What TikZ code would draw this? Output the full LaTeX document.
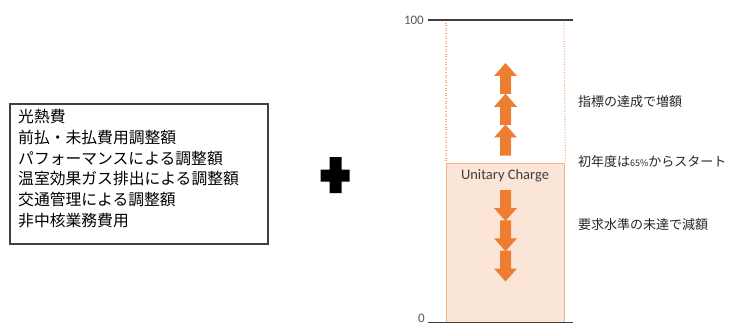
\documentclass[tikz,border=0pt]{standalone}
\usepackage{fontspec}
\newfontfamily\jpfont{Noto Sans CJK JP}
\newfontfamily\latfont{Carlito}
\definecolor{axisgray}{HTML}{3F3F3F}
\definecolor{labelgray}{HTML}{595959}
\definecolor{peach}{HTML}{FBE5D6}
\definecolor{peachline}{HTML}{F4B183}
\definecolor{arroworange}{HTML}{ED7D31}
\definecolor{textdark}{HTML}{262626}
\tikzset{
  listbox/.style={draw=axisgray, line width=1.3pt, minimum width=258pt, minimum height=140pt, inner sep=0pt},
  listtext/.style={anchor=north west, inner sep=0pt, align=left, text=black,
     font=\jpfont\fontsize{15.8}{20.8}\selectfont},
  axisline/.style={draw=axisgray, line width=1.8pt},
  dotline/.style={draw=peachline, line width=1.1pt, dash pattern=on 1pt off 1.6pt},
  chargebox/.style={draw=peachline, fill=peach, line width=1.4pt},
  axislabel/.style={anchor=east, inner sep=0pt, text=labelgray, font=\latfont\fontsize{13}{13}\selectfont},
  blockarrow/.pic={\fill[arroworange] (0,-15.5) -- (11.5,-2.5) -- (5.5,-2.5) -- (5.5,15.5)
       -- (-5.5,15.5) -- (-5.5,-2.5) -- (-11.5,-2.5) -- cycle;},
  notetext/.style={anchor=west, inner sep=0pt, text=textdark, font=\jpfont\fontsize{13}{13}\selectfont},
}
\begin{document}
\begin{tikzpicture}[x=1pt,y=-1pt]
\useasboundingbox (0,0) rectangle (744,326);
% left list box
\node[listbox] (list) at (139,174) {};
\node[listtext] (listcontent) at (18,109) {光熱費\\前払・未払費用調整額\\パフォーマンスによる調整額\\温室効果ガス排出による調整額\\交通管理による調整額\\非中核業務費用};
% plus sign
\fill[black] (329.5,157) -- (341.5,157) -- (341.5,169.5) -- (349.5,169.5) -- (349.5,181.5)
  -- (341.5,181.5) -- (341.5,193) -- (329.5,193) -- (329.5,181.5) -- (320.5,181.5)
  -- (320.5,169.5) -- (329.5,169.5) -- cycle;
% chart
\coordinate (dl1) at (446,20);
\coordinate (dl2) at (564,20);
\node[chargebox, minimum width=118pt, minimum height=159pt, inner sep=0pt, anchor=north west] (charge) at (446,163) {};
\draw[dotline] (dl1) -- (charge.north west);
\draw[dotline] (dl2) -- (charge.north east);
\coordinate (topL) at (428,20);
\coordinate (topR) at (573,20);
\coordinate (botL) at (428,322.5);
\coordinate (botR) at (573,322.5);
\draw[axisline] (topL) -- (topR);
\draw[axisline] (botL) -- (botR);
\node[axislabel] (l100) at (424,20) {100};
\node[axislabel] (l0) at (425,318.5) {0};
\node[inner sep=0pt, text=axisgray, font=\latfont\fontsize{14.5}{14.5}\selectfont] (chargelabel) at (505,175.5) {Unitary Charge};
% arrows
\pic at (505.5,78.5) {blockarrow};
\pic at (505.5,109.3) {blockarrow};
\pic at (505.5,140) {blockarrow};
\pic[rotate=180] at (505.5,205.5) {blockarrow};
\pic[rotate=180] at (505.5,235.8) {blockarrow};
\pic[rotate=180] at (505.5,266) {blockarrow};
% notes
\node[notetext] (note1) at (578,101.5) {指標の達成で増額};
\node[notetext] (note2) at (578,162) {初年度は{\fontsize{9}{9}\selectfont 65\%}からスタート};
\node[notetext] (note3) at (578,224.5) {要求水準の未達で減額};
\end{tikzpicture}
\end{document}
